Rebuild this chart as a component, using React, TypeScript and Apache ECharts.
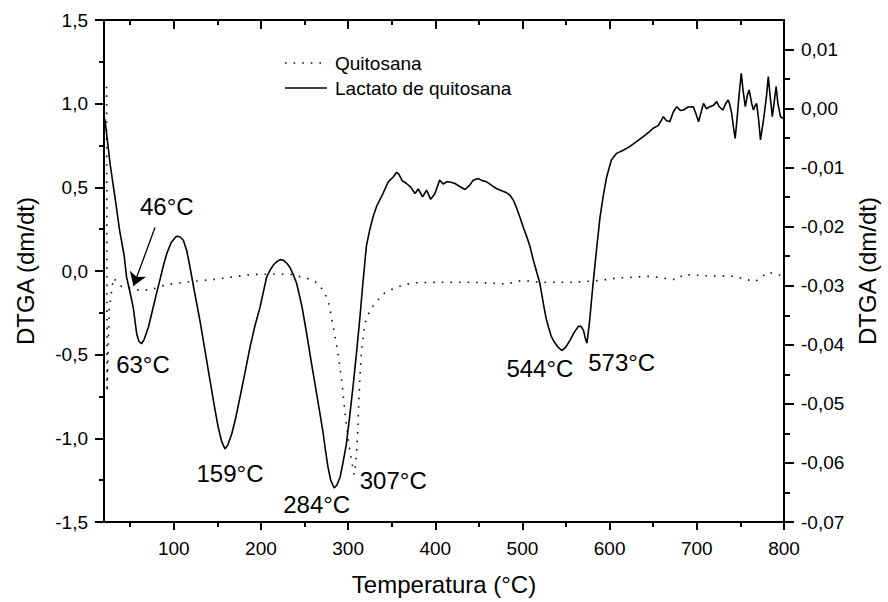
import React, { useEffect, useRef } from "react";
import * as echarts from "echarts";

const FONT = "'Liberation Sans', Arial, sans-serif";

// Lactato de quitosana (left axis)
const lactTemp = [21, 27, 32.6, 38, 42.9, 46, 50, 53.6, 57.5, 60, 63, 66, 71, 76.5, 80, 84, 88, 92, 97, 103, 107, 111, 115, 118.6, 124, 130, 136, 141.6, 147, 151, 155, 158.8, 162, 166.5, 171, 176, 182, 187.5, 193, 199, 203, 206.6, 210, 214, 218, 222, 226, 230, 233, 237, 241, 247, 252.5, 257, 262, 267, 271.5, 274, 277, 280, 284, 287, 290.7, 294, 298, 302, 306, 310, 313.6, 317, 321, 325, 329, 333, 340, 346, 352, 355.6, 358, 362, 367, 372, 376.7, 380.5, 385.5, 390, 394.7, 399.6, 405, 409, 413, 418, 422.6, 428, 434, 439, 443.6, 449, 454, 459, 465, 470, 476, 482, 486, 489.6, 493, 497, 501, 505, 509, 512.5, 516, 520, 524, 527, 529.8, 533, 535.5, 540, 545, 549, 554.5, 559, 564, 567, 570, 572, 574, 577, 581, 585, 589, 593, 596.5, 602, 608, 615, 623, 630, 638.6, 645, 650, 656, 661.6, 665, 669, 673, 677, 681, 684.6, 690, 696, 699, 702, 705, 707.6, 711, 715, 719, 722.8, 726, 730, 733, 736, 738, 740, 742, 744, 746, 747, 749, 751, 753, 755.6, 758, 760, 763, 765, 767, 768.6, 771, 773, 775, 777, 780, 782, 784, 786.6, 789, 791, 793, 796, 799, 800];
const lactValue = [0.91, 0.64, 0.44, 0.24, 0.1, -0.04, -0.13, -0.22, -0.375, -0.42, -0.435, -0.41, -0.335, -0.215, -0.14, -0.056, 0.03, 0.104, 0.17, 0.208, 0.205, 0.184, 0.12, 0.024, -0.13, -0.295, -0.48, -0.654, -0.82, -0.934, -1.02, -1.063, -1.04, -0.974, -0.88, -0.754, -0.6, -0.455, -0.33, -0.216, -0.12, -0.036, 0.0, 0.034, 0.055, 0.068, 0.064, 0.045, 0.024, -0.02, -0.075, -0.21, -0.375, -0.52, -0.674, -0.83, -0.974, -1.07, -1.174, -1.25, -1.297, -1.28, -1.234, -1.15, -1.034, -0.86, -0.674, -0.47, -0.275, -0.07, 0.15, 0.25, 0.33, 0.39, 0.463, 0.533, 0.563, 0.59, 0.58, 0.54, 0.523, 0.5, 0.463, 0.49, 0.443, 0.483, 0.428, 0.463, 0.543, 0.52, 0.533, 0.53, 0.523, 0.505, 0.487, 0.51, 0.543, 0.553, 0.54, 0.533, 0.51, 0.493, 0.48, 0.467, 0.45, 0.423, 0.38, 0.323, 0.26, 0.204, 0.14, 0.064, 0.0, -0.075, -0.195, -0.28, -0.335, -0.39, -0.415, -0.45, -0.475, -0.46, -0.415, -0.37, -0.331, -0.33, -0.355, -0.4, -0.431, -0.3, -0.075, 0.13, 0.323, 0.46, 0.56, 0.663, 0.703, 0.72, 0.743, 0.77, 0.803, 0.83, 0.853, 0.87, 0.922, 0.9, 0.892, 0.95, 0.982, 0.96, 0.962, 0.98, 0.982, 0.94, 0.892, 0.95, 1.002, 0.97, 0.982, 0.99, 1.012, 0.98, 0.962, 1.0, 1.022, 0.99, 0.942, 0.86, 0.792, 0.9, 0.962, 1.08, 1.182, 1.08, 0.982, 1.05, 1.082, 1.0, 0.962, 0.99, 1.002, 0.9, 0.783, 0.85, 0.922, 1.05, 1.162, 1.05, 0.922, 1.02, 1.102, 1.0, 0.922, 0.912, 0.92];

// Quitosana (right axis)
const quitTemp = [23, 23.5, 26, 30.7, 40, 57.5, 72.8, 92, 118.6, 149, 187.5, 218, 235, 252.5, 262, 268, 273, 277.7, 283, 289, 293, 296.8, 300.6, 304.4, 307, 309, 310.5, 312, 313.6, 315.5, 319.5, 325, 332.7, 340, 352, 365, 376.7, 405, 443.6, 482, 499, 520, 558, 589, 608, 646, 677, 684.6, 711, 742, 767, 782, 800];
const quitValue = [0.0037, -0.048, -0.034, -0.0287, -0.0301, -0.0307, -0.0307, -0.0298, -0.0293, -0.0289, -0.0281, -0.028, -0.0281, -0.0287, -0.0293, -0.0301, -0.0312, -0.0329, -0.0369, -0.042, -0.0465, -0.0521, -0.0566, -0.06, -0.062, -0.0595, -0.0566, -0.051, -0.0453, -0.0408, -0.0363, -0.0341, -0.0327, -0.0314, -0.0305, -0.0298, -0.0295, -0.0294, -0.0294, -0.0297, -0.0291, -0.0294, -0.0294, -0.0291, -0.0287, -0.0284, -0.029, -0.0281, -0.0283, -0.0284, -0.0293, -0.0277, -0.0284];

// Annotations (left-axis coordinates)
const annoText = ["46°C", "63°C", "159°C", "284°C", "307°C", "544°C", "573°C"];
const annoTemp = [92, 64.7, 164.5, 264, 351.8, 520, 613.8];
const annoValue = [0.383, -0.559, -1.211, -1.397, -1.253, -0.584, -0.545];

// Arrow for 46°C (from, to)
const arrowFrom = [78.5, 0.26];
const arrowTo = [53.8, -0.09];

const legendNames = ["Quitosana", "Lactato de quitosana"];

const xMajor = [100, 200, 300, 400, 500, 600, 700, 800];
const xMinor = [50, 150, 250, 350, 450, 550, 650, 750];
const rightMajor = [-0.07, -0.06, -0.05, -0.04, -0.03, -0.02, -0.01, 0, 0.01];
const rightMinor = [-0.065, -0.055, -0.045, -0.035, -0.025, -0.015, -0.005, 0.005];

const BLACK = "#000";
const DOTS = [1.6, 7];

export default function App() {
  const ref = useRef<HTMLDivElement>(null);
  useEffect(() => {
    if (!ref.current) return;
    const chart = echarts.init(ref.current, undefined, { renderer: "svg" });
    const axisLine = { show: true, onZero: false, lineStyle: { color: BLACK, width: 2 } };
    const hiddenLine = { show: false, onZero: false };
    const option: any = {
      animation: false,
      backgroundColor: "#fff",
      textStyle: { fontFamily: FONT },
      grid: { left: 104, right: 104, top: 20, bottom: 80, containLabel: false },
      graphic: [
        {
          type: "line", silent: true,
          shape: { x1: 285, y1: 63, x2: 327, y2: 63 },
          style: { stroke: "#111", lineWidth: 1.6, lineDash: DOTS },
        },
        {
          type: "line", silent: true,
          shape: { x1: 285, y1: 88, x2: 327, y2: 88 },
          style: { stroke: BLACK, lineWidth: 1.6 },
        },
        {
          type: "text", silent: true, x: 335, y: 63,
          style: { text: legendNames[0], fill: BLACK, font: `19px ${FONT}`, verticalAlign: "middle", align: "left" },
        },
        {
          type: "text", silent: true, x: 335, y: 88,
          style: { text: legendNames[1], fill: BLACK, font: `19px ${FONT}`, verticalAlign: "middle", align: "left" },
        },
      ],
      xAxis: [
        {
          type: "value", position: "bottom", min: 20, max: 800,
          axisLine,
          axisTick: { show: true, customValues: xMajor, length: 8, lineStyle: { color: BLACK, width: 2 } },
          axisLabel: { customValues: xMajor, fontSize: 19, color: BLACK, margin: 17, fontFamily: FONT },
          splitLine: { show: false },
          name: "Temperatura (°C)", nameLocation: "middle", nameGap: 50,
          nameTextStyle: { fontSize: 24, color: BLACK, fontFamily: FONT },
        },
        {
          type: "value", position: "bottom", min: 20, max: 800,
          axisLine: hiddenLine,
          axisTick: { show: true, customValues: xMinor, length: 5, lineStyle: { color: BLACK, width: 2 } },
          axisLabel: { show: false }, splitLine: { show: false },
        },
        {
          type: "value", position: "top", min: 20, max: 800,
          axisLine,
          axisTick: { show: true, inside: true, customValues: xMajor, length: 9, lineStyle: { color: BLACK, width: 2 } },
          axisLabel: { show: false }, splitLine: { show: false },
        },
        {
          type: "value", position: "top", min: 20, max: 800,
          axisLine: hiddenLine,
          axisTick: { show: true, inside: true, customValues: xMinor, length: 5, lineStyle: { color: BLACK, width: 2 } },
          axisLabel: { show: false }, splitLine: { show: false },
        },
      ],
      yAxis: [
        {
          type: "value", position: "left", min: -1.5, max: 1.5, interval: 0.5,
          axisLine,
          axisTick: { show: true, length: 9, lineStyle: { color: BLACK, width: 2 } },
          minorTick: { show: true, splitNumber: 2, length: 5, lineStyle: { color: BLACK, width: 2 } },
          axisLabel: {
            fontSize: 19, color: BLACK, margin: 16, fontFamily: FONT,
            formatter: (v: number) => v.toFixed(1).replace(".", ","),
          },
          splitLine: { show: false }, minorSplitLine: { show: false },
          name: "DTGA (dm/dt)", nameLocation: "middle", nameGap: 67, nameRotate: 90,
          nameTextStyle: { fontSize: 24, color: BLACK, fontFamily: FONT },
        },
        {
          type: "value", position: "right", min: -0.07, max: 0.015,
          axisLine,
          axisTick: { show: true, customValues: rightMajor, length: 10, lineStyle: { color: BLACK, width: 2 } },
          axisLabel: {
            customValues: rightMajor, fontSize: 19, color: BLACK, margin: 17, fontFamily: FONT,
            formatter: (v: number) => v.toFixed(2).replace(".", ","),
          },
          splitLine: { show: false },
          name: "DTGA (dm/dt)", nameLocation: "middle", nameGap: 70, nameRotate: 90,
          nameTextStyle: { fontSize: 24, color: BLACK, fontFamily: FONT },
        },
        {
          type: "value", position: "right", min: -0.07, max: 0.015,
          axisLine: hiddenLine,
          axisTick: { show: true, customValues: rightMinor, length: 6, lineStyle: { color: BLACK, width: 2 } },
          axisLabel: { show: false }, splitLine: { show: false },
        },
      ],
      series: [
        {
          name: legendNames[0],
          type: "line",
          xAxisIndex: 0,
          yAxisIndex: 1,
          symbol: "none",
          showSymbol: false,
          silent: true,
          lineStyle: { color: "#111", width: 1.6, type: DOTS },
          itemStyle: { color: "#111" },
          data: quitTemp.map((t, i) => [t, quitValue[i]]),
          z: 2,
        },
        {
          name: legendNames[1],
          type: "line",
          xAxisIndex: 0,
          yAxisIndex: 0,
          symbol: "none",
          showSymbol: false,
          silent: true,
          lineStyle: { color: BLACK, width: 1.6 },
          itemStyle: { color: BLACK },
          data: lactTemp.map((t, i) => [t, lactValue[i]]),
          z: 3,
        },
        {
          name: "arrow",
          type: "lines",
          coordinateSystem: "cartesian2d",
          xAxisIndex: 0,
          yAxisIndex: 0,
          silent: true,
          symbol: ["none", "arrow"],
          symbolSize: 13,
          lineStyle: { color: BLACK, width: 1.3, opacity: 1 },
          itemStyle: { color: BLACK },
          data: [{ coords: [arrowFrom, arrowTo] }],
          z: 4,
        },
        {
          name: "anno",
          type: "scatter",
          xAxisIndex: 0,
          yAxisIndex: 0,
          symbolSize: 1,
          silent: true,
          itemStyle: { color: "transparent", opacity: 1 },
          label: {
            show: true,
            position: "inside",
            color: BLACK,
            opacity: 1,
            fontSize: 24,
            fontFamily: FONT,
            formatter: (p: any) => p.value[2],
          },
          data: annoTemp.map((t, i) => [t, annoValue[i], annoText[i]]),
          z: 4,
        },
      ],
    };
    chart.setOption(option);
    return () => chart.dispose();
  }, []);
  return (
    <div
      ref={ref}
      style={{ position: "fixed", left: 0, top: 0, width: 888, height: 602, background: "#fff" }}
    />
  );
}
